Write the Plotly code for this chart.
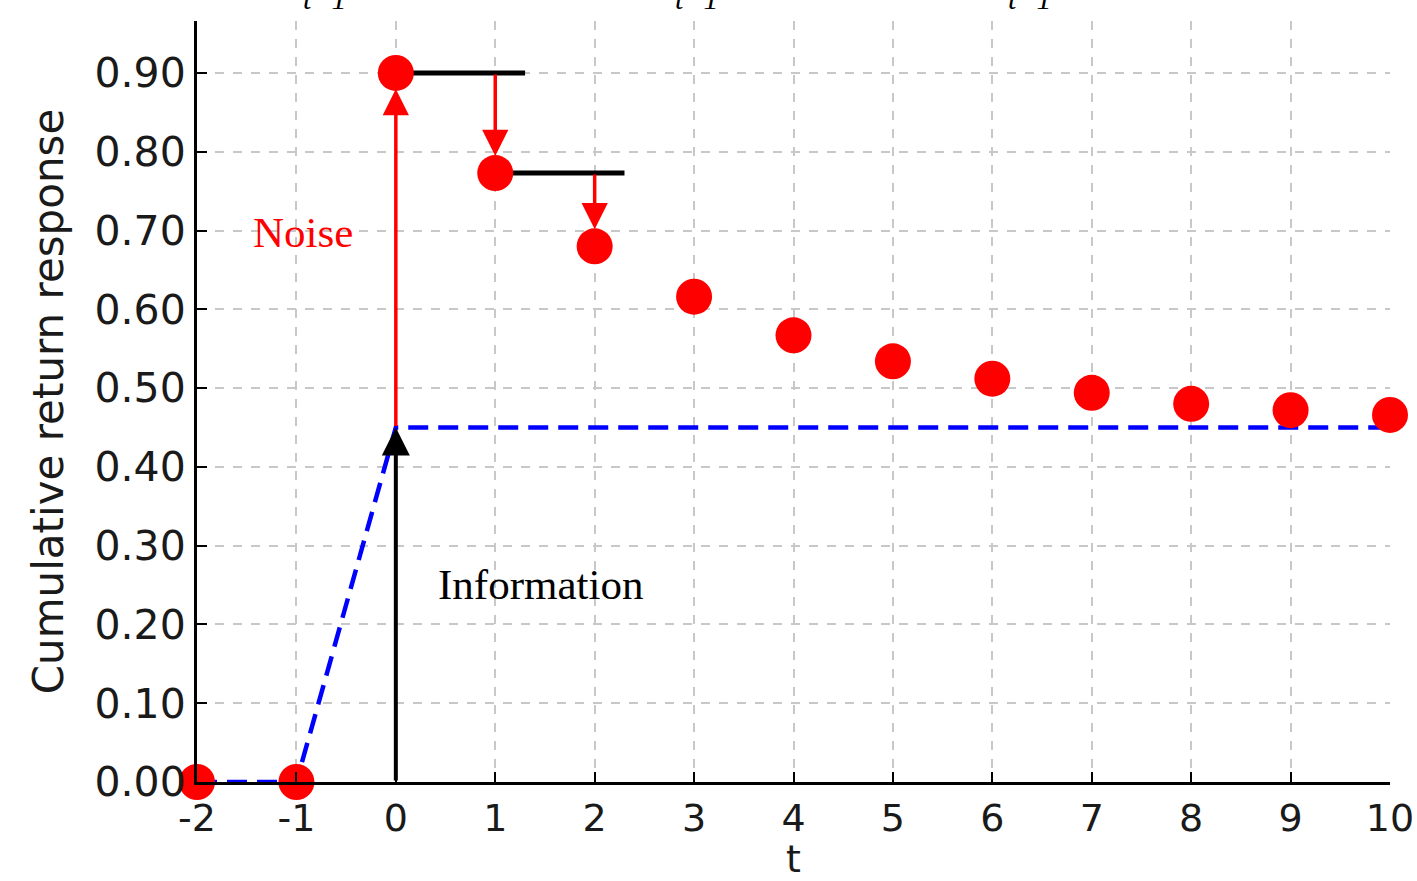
import plotly.graph_objects as go

# ---- data ----
t_vals = [-2, -1, 0, 1, 2, 3, 4, 5, 6, 7, 8, 9, 10]
response = [0.0, 0.0, 0.90, 0.773, 0.680, 0.616, 0.567, 0.534, 0.512, 0.494, 0.480, 0.472, 0.466]
info_t = [-2, -1, 0, 10]
info_level = [0.0, 0.0, 0.45, 0.45]
x_ticks = [-2, -1, 0, 1, 2, 3, 4, 5, 6, 7, 8, 9, 10]
x_ticktext = ["-2", "-1", "0", "1", "2", "3", "4", "5", "6", "7", "8", "9", "10"]
y_ticks = [0.0, 0.1, 0.2, 0.3, 0.4, 0.5, 0.6, 0.7, 0.8, 0.9]
step_len = 1.3          # length of black horizontal reference segments
top_labels = ["t−1", "t−1", "t−1"]
top_label_x = [-0.71, 3.03, 6.38]

fig = go.Figure()

# black horizontal reference segments (from point t to t+step_len)
for i in (2, 3):
    fig.add_trace(go.Scatter(
        x=[t_vals[i], t_vals[i] + step_len], y=[response[i], response[i]],
        mode="lines", line=dict(color="black", width=5),
        hoverinfo="skip", showlegend=False, cliponaxis=False))

# information (blue dashed)
fig.add_trace(go.Scatter(
    x=info_t, y=info_level, mode="lines",
    line=dict(color="#0000ff", width=4.5, dash="20px,10px"),
    hoverinfo="skip", showlegend=False, cliponaxis=False))

# red response points
fig.add_trace(go.Scatter(
    x=t_vals, y=response, mode="markers",
    marker=dict(color="#ff0000", size=36, line=dict(width=0)),
    showlegend=False, cliponaxis=False))

annotations = []
# black information arrow
annotations.append(dict(
    x=t_vals[2], y=info_level[2], ax=t_vals[2], ay=info_level[1],
    xref="x", yref="y", axref="x", ayref="y", text="",
    showarrow=True, arrowhead=2, arrowsize=1.4, arrowwidth=4, arrowcolor="black"))
# red noise arrow
annotations.append(dict(
    x=t_vals[2], y=response[2], ax=t_vals[2], ay=info_level[2],
    xref="x", yref="y", axref="x", ayref="y", text="",
    showarrow=True, arrowhead=2, arrowsize=1.5, arrowwidth=3.5, arrowcolor="#ff0000",
    standoff=16))
# red decay arrows
for i in (3, 4):
    annotations.append(dict(
        x=t_vals[i], y=response[i], ax=t_vals[i], ay=response[i - 1],
        xref="x", yref="y", axref="x", ayref="y", text="",
        showarrow=True, arrowhead=2, arrowsize=1.5, arrowwidth=3.5, arrowcolor="#ff0000",
        standoff=17))

annotations.append(dict(
    x=-0.93, y=0.698, xref="x", yref="y", text="Noise", showarrow=False,
    font=dict(family="Liberation Serif", size=43, color="#ff0000")))
annotations.append(dict(
    x=1.46, y=0.251, xref="x", yref="y", text="Information", showarrow=False,
    font=dict(family="Liberation Serif", size=43, color="black")))

for lbl, lx in zip(top_labels, top_label_x):
    annotations.append(dict(
        x=lx, y=1.03, xref="x", yref="paper", text=lbl, showarrow=False,
        yanchor="middle",
        font=dict(family="Liberation Serif", size=30, color="black", style="italic")))

fig.update_layout(
    width=1417, height=881,
    margin=dict(l=197, r=27, t=21, b=99),
    paper_bgcolor="white", plot_bgcolor="white",
    font=dict(family="DejaVu Sans", size=38, color="#1a1a1a"),
    annotations=annotations,
    xaxis=dict(
        range=[-2, 10], tickvals=x_ticks, ticktext=x_ticktext,
        showgrid=True, gridcolor="#c8c8c8", griddash="dash", gridwidth=1.5,
        showline=True, linecolor="black", linewidth=3,
        ticks="inside", ticklen=10, tickwidth=2, tickcolor="black",
        zeroline=False, automargin=False,
        tickfont=dict(family="DejaVu Sans", size=38, color="#1a1a1a"),
        title=dict(text="t", font=dict(family="DejaVu Sans", size=38, color="#1a1a1a"), standoff=22),
    ),
    yaxis=dict(
        range=[0, 0.966], tickvals=y_ticks, tickformat=".2f",
        showgrid=True, gridcolor="#c8c8c8", griddash="dash", gridwidth=1.5,
        showline=True, linecolor="black", linewidth=3,
        ticks="inside", ticklen=10, tickwidth=2, tickcolor="black",
        zeroline=False, automargin=False,
        tickfont=dict(family="DejaVu Sans", size=41, color="#1a1a1a"),
        title=dict(text="Cumulative return response",
                   font=dict(family="DejaVu Sans", size=42, color="#1a1a1a"), standoff=18),
    ),
)

fig.write_html("out.html", config={"displayModeBar": False},
               post_script="document.body.style.margin='0';document.body.style.overflow='hidden';")
